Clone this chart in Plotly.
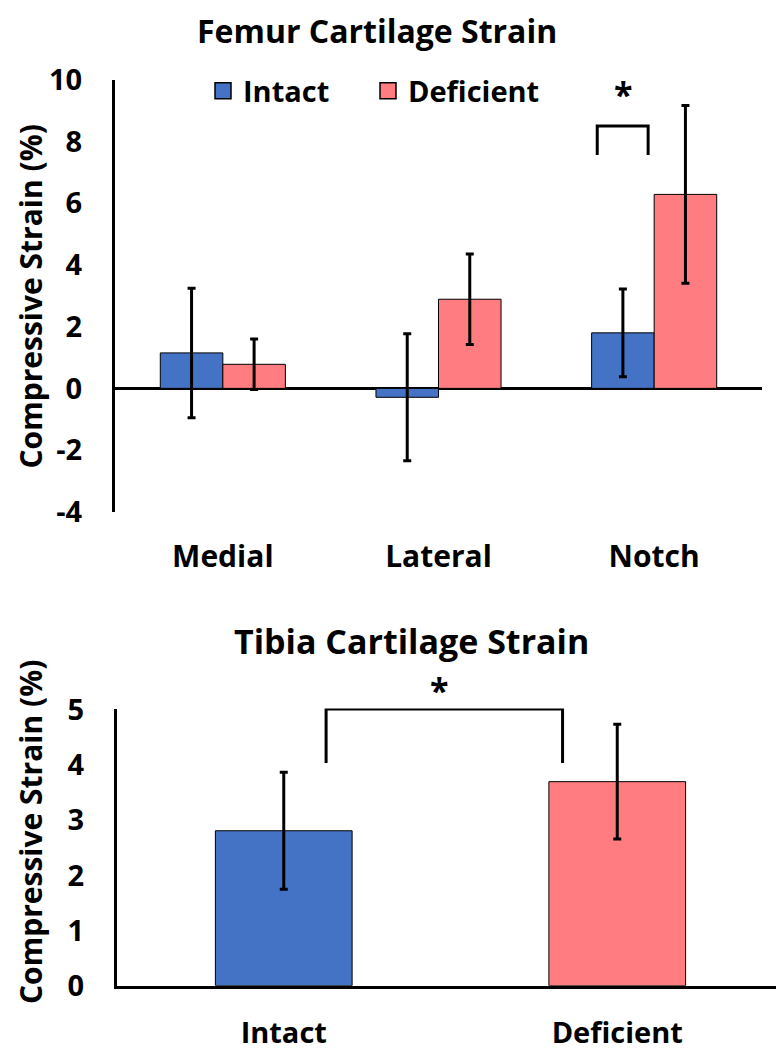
import plotly.graph_objects as go

# ---- data: femur ----
femur_regions = ["Medial", "Lateral", "Notch"]
femur_intact = [1.15, -0.29, 1.80]
femur_intact_err = [2.10, 2.06, 1.42]
femur_deficient = [0.78, 2.89, 6.29]
femur_deficient_err = [0.82, 1.47, 2.88]
femur_ytick_vals = [-4, -2, 0, 2, 4, 6, 8, 10]
femur_ytick_text = ["-4", "-2", "0", "2", "4", "6", "8", "10"]

# ---- data: tibia ----
tibia_groups = ["Intact", "Deficient"]
tibia_values = [2.81, 3.70]
tibia_err = [1.06, 1.04]
tibia_ytick_vals = [0, 1, 2, 3, 4, 5]

# significance brackets (category index, value)
femur_sig_x = [1.736, 1.972]
femur_sig_y = [7.57, 8.51]
femur_star = (1.859, 9.55)
tibia_sig_x = [0.127, 0.836]
tibia_sig_y = [4.04, 5.02]
tibia_star_x = 0.467

BLUE = "#4472C4"
PINK = "#FF7C80"
FONT = "Open Sans"
PAGE_OFFSET = 8          # default body margin of the html page
W, H = 784 - PAGE_OFFSET, 1050 - PAGE_OFFSET

def f(size):
    return dict(family=FONT, size=size, color="black", weight=700)

fig = go.Figure()

err_style = dict(type="data", visible=True, color="black", thickness=3, width=4)

fig.add_trace(go.Bar(
    x=femur_regions, y=femur_intact, name="Intact",
    marker=dict(color=BLUE, line=dict(color="black", width=1)),
    error_y=dict(array=femur_intact_err, **err_style),
    xaxis="x", yaxis="y", showlegend=False, offsetgroup="a"))
fig.add_trace(go.Bar(
    x=femur_regions, y=femur_deficient, name="Deficient",
    marker=dict(color=PINK, line=dict(color="black", width=1)),
    error_y=dict(array=femur_deficient_err, **err_style),
    xaxis="x", yaxis="y", showlegend=False, offsetgroup="b"))

# legend proxies (one legend box per entry to match spacing)
for nm, col, lg in [("Intact", BLUE, "legend"), ("Deficient", PINK, "legend2")]:
    fig.add_trace(go.Scatter(
        x=[None], y=[None], mode="markers", name=nm, legend=lg,
        marker=dict(symbol="square", size=16, color=col, line=dict(color="black", width=1.5)),
        xaxis="x", yaxis="y", showlegend=True))

fig.add_trace(go.Bar(
    x=tibia_groups, y=tibia_values, width=0.41,
    marker=dict(color=[BLUE, PINK], line=dict(color="black", width=1)),
    error_y=dict(array=tibia_err, **err_style),
    xaxis="x2", yaxis="y2", showlegend=False))

def px_x(p):
    return (p - PAGE_OFFSET) / W

def px_y(p):
    return 1 - (p - PAGE_OFFSET) / H

legend_common = dict(orientation="h", xanchor="left", yanchor="middle", font=f(29),
                     itemsizing="trace", bgcolor="rgba(0,0,0,0)")

fig.update_layout(
    width=W, height=H,
    margin=dict(l=0, r=0, t=0, b=0, autoexpand=False),
    paper_bgcolor="white", plot_bgcolor="white",
    barmode="group", bargap=0.42, bargroupgap=0,
    font=dict(family=FONT, color="black"),
    xaxis=dict(domain=[px_x(115), px_x(762)], anchor="y", showline=False, showgrid=False,
               zeroline=False, ticks="", tickfont=f(30), automargin=False,
               ticklabelstandoff=24, range=[-0.5, 2.5]),
    yaxis=dict(domain=[px_y(511.7), px_y(80)], anchor="x", range=[-4, 10],
               tickvals=femur_ytick_vals, ticktext=femur_ytick_text, automargin=False,
               showline=True, linecolor="black", linewidth=3, showgrid=False,
               zeroline=True, zerolinecolor="black", zerolinewidth=3,
               ticks="", tickfont=f(29), ticklabelstandoff=24),
    xaxis2=dict(domain=[px_x(117), 1.0], anchor="y2", showline=True, linecolor="black",
                linewidth=3, showgrid=False, zeroline=False, ticks="", automargin=False,
                tickfont=f(29), ticklabelstandoff=19, range=[-0.5, 1.5]),
    yaxis2=dict(domain=[px_y(985.7), px_y(708.6)], anchor="x2", range=[0, 5.025],
                tickvals=tibia_ytick_vals, automargin=False,
                showline=True, linecolor="black", linewidth=3, showgrid=False,
                zeroline=False, ticks="", tickfont=f(29), ticklabelstandoff=24),
    legend=dict(x=px_x(203), y=px_y(91), **legend_common),
    legend2=dict(x=px_x(368), y=px_y(91), **legend_common),
    showlegend=True,
)

annotations = [
    dict(text="Femur Cartilage Strain", x=px_x(377), y=px_y(30), xref="paper", yref="paper",
         showarrow=False, font=f(32), xanchor="center", yanchor="middle"),
    dict(text="Tibia Cartilage Strain", x=px_x(411), y=px_y(641), xref="paper", yref="paper",
         showarrow=False, font=f(34), xanchor="center", yanchor="middle"),
    dict(text="Compressive Strain (%)", x=px_x(30), y=px_y(296.5), xref="paper", yref="paper",
         showarrow=False, textangle=-90, font=f(30), xanchor="center", yanchor="middle"),
    dict(text="Compressive Strain (%)", x=px_x(30), y=px_y(832), xref="paper", yref="paper",
         showarrow=False, textangle=-90, font=f(30), xanchor="center", yanchor="middle"),
    dict(text="*", x=femur_star[0], y=femur_star[1], xref="x", yref="y", showarrow=False,
         font=f(34)),
    dict(text="*", x=tibia_star_x, y=tibia_sig_y[1], xref="x2", yref="y2", showarrow=False,
         yshift=19, font=f(34)),
]
fig.update_layout(annotations=annotations)

shapes = []
for (xs, ys, xr, yr) in [(femur_sig_x, femur_sig_y, "x", "y"), (tibia_sig_x, tibia_sig_y, "x2", "y2")]:
    path = f"M {xs[0]},{ys[0]} L {xs[0]},{ys[1]} L {xs[1]},{ys[1]} L {xs[1]},{ys[0]}"
    shapes.append(dict(type="path", path=path, xref=xr, yref=yr, line=dict(color="black", width=3)))
fig.update_layout(shapes=shapes)

fig.write_html("out.html")
